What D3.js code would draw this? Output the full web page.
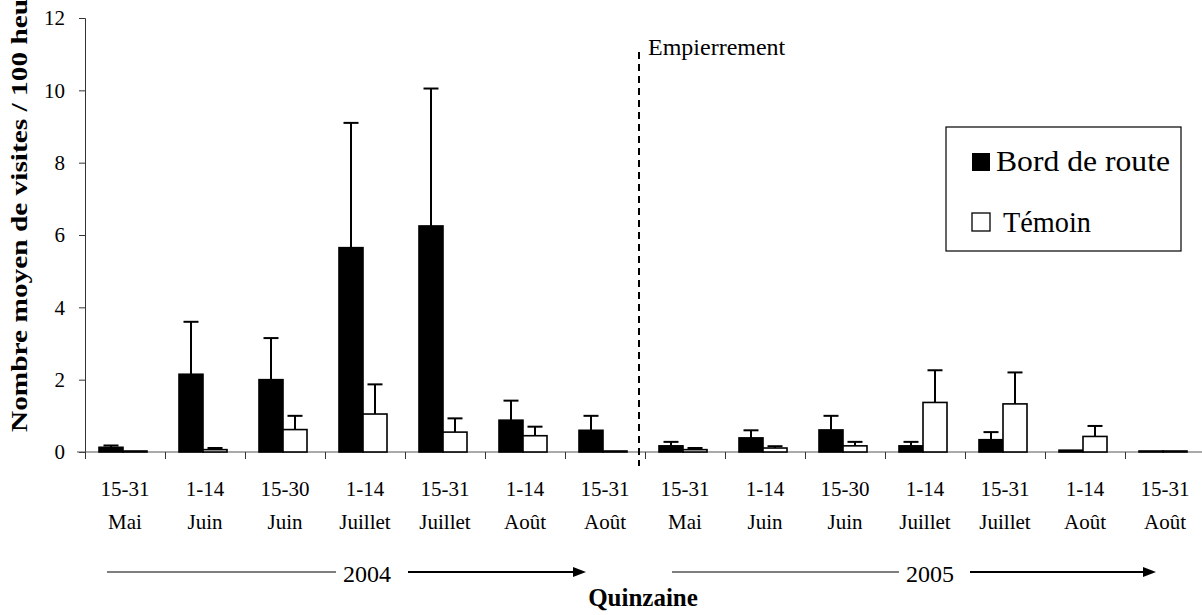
<!DOCTYPE html>
<html><head><meta charset="utf-8">
<script src="https://cdn.jsdelivr.net/npm/d3@7"></script>
<style>
html,body{margin:0;padding:0;background:#fff;}
</style></head>
<body>
<svg id="chart" width="1202" height="615"></svg>
<script>
const periods = ["15-31","1-14","15-30","1-14","15-31","1-14","15-31","15-31","1-14","15-30","1-14","15-31","1-14","15-31"];
const months  = ["Mai","Juin","Juin","Juillet","Juillet","Août","Août","Mai","Juin","Juin","Juillet","Juillet","Août","Août"];
const bordValues   = [0.13, 2.15, 2.0, 5.65, 6.25, 0.88, 0.6, 0.17, 0.39, 0.61, 0.17, 0.34, 0.05, 0];
const bordSE       = [0.05, 1.45, 1.15, 3.45, 3.8, 0.54, 0.4, 0.11, 0.21, 0.39, 0.11, 0.21, 0, 0];
const temoinValues = [0, 0.065, 0.62, 1.05, 0.55, 0.45, 0, 0.065, 0.11, 0.17, 1.37, 1.33, 0.43, 0];
const temoinSE     = [0, 0.045, 0.38, 0.82, 0.38, 0.25, 0, 0.045, 0.05, 0.11, 0.89, 0.87, 0.29, 0];
const yTicks = [0, 2, 4, 6, 8, 10, 12];
const seriesNames = ["Bord de route", "Témoin"];
const years = ["2004", "2005"];

const FONT = "Liberation Serif";
const svg = d3.select("#chart");
const x0 = 85, x1 = 85 + 14 * 80, yBase = 452, yTop = 18;
const y = d3.scaleLinear().domain([0, 12]).range([yBase, yTop]);
const x = d3.scaleBand().domain(d3.range(14)).range([x0, x1]).paddingInner(0).paddingOuter(0);
const xs = d3.scaleBand().domain(seriesNames).range([14, 62]);
const xLin = d3.scaleLinear().domain([0, 14]).range([x0, x1]);

// Y axis
const yAxis = svg.append("g").attr("transform", `translate(${x0},0)`)
  .call(d3.axisLeft(y).tickValues(yTicks).tickSize(6).tickPadding(14));
yAxis.select(".domain").attr("stroke", "#333");
yAxis.selectAll(".tick line").attr("stroke", "#333");
yAxis.selectAll("text").attr("fill", "#000").attr("font-family", FONT).attr("font-size", 21);

// X axis
const xAxis = svg.append("g").attr("transform", `translate(0,${yBase})`)
  .call(d3.axisBottom(xLin).tickValues(d3.range(15)).tickSize(7).tickFormat(""));
xAxis.select(".domain").attr("stroke", "#555").attr("d", `M${x0 - 8},0H${x1}`);
xAxis.selectAll(".tick line").attr("stroke", "#333");

// category labels
const lab = svg.append("g");
lab.selectAll("text.p").data(periods).join("text")
  .attr("font-family", FONT).attr("font-size", 21)
  .attr("x", (d, i) => x(i) + x.bandwidth() / 2).attr("y", 496)
  .attr("text-anchor", "middle").text(d => d);
lab.selectAll("text.m").data(months).join("text")
  .attr("font-family", FONT).attr("font-size", 21)
  .attr("x", (d, i) => x(i) + x.bandwidth() / 2).attr("y", 529)
  .attr("text-anchor", "middle").text(d => d);

// dashed separator
svg.append("line").attr("x1", 639).attr("x2", 639).attr("y1", 52).attr("y2", 466)
  .attr("stroke", "#000").attr("stroke-width", 2).attr("stroke-dasharray", "7,5");
svg.append("text").attr("x", 648).attr("y", 55).attr("font-family", FONT).attr("font-size", 24).text("Empierrement");

// bars
const groups = svg.append("g").selectAll("g").data(d3.range(14)).join("g")
  .attr("transform", i => `translate(${x(i)},0)`);
const rows = i => [
  {s: seriesNames[0], v: bordValues[i], e: bordSE[i]},
  {s: seriesNames[1], v: temoinValues[i], e: temoinSE[i]}
];
groups.selectAll("rect").data(rows).join("rect")
  .attr("x", d => xs(d.s)).attr("width", xs.bandwidth())
  .attr("y", d => Math.min(y(d.v), yBase - 1)).attr("height", d => Math.max(yBase - y(d.v), 1))
  .attr("fill", d => d.s === seriesNames[0] ? "#000" : "#fff")
  .attr("stroke", "#000").attr("stroke-width", 1.6);
const eb = groups.selectAll("g.err").data(i => rows(i).filter(d => d.e > 0)).join("g");
eb.append("line")
  .attr("x1", d => xs(d.s) + xs.bandwidth() / 2).attr("x2", d => xs(d.s) + xs.bandwidth() / 2)
  .attr("y1", d => y(d.v)).attr("y2", d => y(d.v + d.e))
  .attr("stroke", "#000").attr("stroke-width", 2);
eb.append("line")
  .attr("x1", d => xs(d.s) + xs.bandwidth() / 2 - 7.5).attr("x2", d => xs(d.s) + xs.bandwidth() / 2 + 7.5)
  .attr("y1", d => y(d.v + d.e)).attr("y2", d => y(d.v + d.e))
  .attr("stroke", "#000").attr("stroke-width", 2);

// legend
const lg = svg.append("g");
lg.append("rect").attr("x", 946).attr("y", 127).attr("width", 235).attr("height", 124)
  .attr("fill", "#fff").attr("stroke", "#000").attr("stroke-width", 1.2);
lg.append("rect").attr("x", 972).attr("y", 153).attr("width", 18).attr("height", 18).attr("fill", "#000");
lg.append("text").attr("x", 996).attr("y", 171).attr("font-family", FONT).attr("font-size", 29)
  .attr("textLength", 174).attr("lengthAdjust", "spacingAndGlyphs").text(seriesNames[0]);
lg.append("rect").attr("x", 972).attr("y", 213).attr("width", 18).attr("height", 18)
  .attr("fill", "#fff").attr("stroke", "#000").attr("stroke-width", 1.3);
lg.append("text").attr("x", 1003).attr("y", 232).attr("font-family", FONT).attr("font-size", 29)
  .attr("textLength", 88).attr("lengthAdjust", "spacingAndGlyphs").text(seriesNames[1]);

// year arrows
const yearG = svg.append("g");
const yearSpecs = [
  {t: years[0], a: 107, b: 336, c: 367, d: 408, e: 586},
  {t: years[1], a: 672, b: 899, c: 930, d: 970, e: 1156}
];
yearSpecs.forEach(s => {
  yearG.append("line").attr("x1", s.a).attr("x2", s.b).attr("y1", 572).attr("y2", 572)
    .attr("stroke", "#000").attr("stroke-width", 1.2);
  yearG.append("text").attr("x", s.c).attr("y", 582).attr("text-anchor", "middle")
    .attr("font-family", FONT).attr("font-size", 24).text(s.t);
  yearG.append("line").attr("x1", s.d).attr("x2", s.e - 10).attr("y1", 572).attr("y2", 572)
    .attr("stroke", "#000").attr("stroke-width", 2.2);
  yearG.append("path").attr("d", `M${s.e},572L${s.e - 13},567L${s.e - 13},577Z`).attr("fill", "#000");
});

// axis titles
svg.append("text").attr("x", 643).attr("y", 606).attr("text-anchor", "middle")
  .attr("font-family", FONT).attr("font-size", 25).attr("font-weight", "bold").text("Quinzaine");
svg.append("text").attr("transform", "translate(27,432) rotate(-90)")
  .attr("font-family", FONT).attr("font-size", 24).attr("font-weight", "bold")
  .attr("textLength", 470).attr("lengthAdjust", "spacingAndGlyphs")
  .text("Nombre moyen de visites / 100 heures");
</script>
</body></html>
